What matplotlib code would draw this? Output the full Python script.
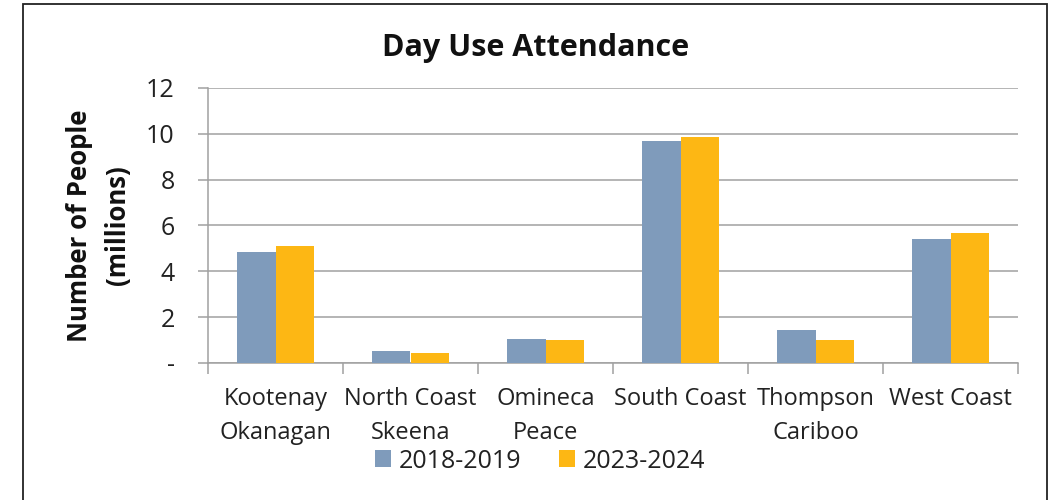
import matplotlib
matplotlib.use("Agg")
import matplotlib.pyplot as plt
from matplotlib.patches import Rectangle
import numpy as np

categories = ["Kootenay\nOkanagan", "North Coast\nSkeena", "Omineca\nPeace",
              "South Coast", "Thompson\nCariboo", "West Coast"]
series_names = ["2018-2019", "2023-2024"]
values_2018 = [4.83, 0.52, 1.05, 9.67, 1.42, 5.42]
values_2023 = [5.09, 0.45, 1.00, 9.88, 1.00, 5.68]
yticks = [0, 2, 4, 6, 8, 10, 12]
ytick_labels = ["-", "2", "4", "6", "8", "10", "12"]

plt.rcParams['font.family'] = ['Open Sans', 'DejaVu Sans']

fig = plt.figure(figsize=(10.55, 5), dpi=100)
ax = fig.add_axes([208/1055, 137/500, (1018-208)/1055, (363-88)/500])

x = np.arange(len(categories))
w = 0.285
c1 = "#7F9BBB"
c2 = "#FDB714"
ax.bar(x - w/2, values_2018, w, color=c1, label=series_names[0], zorder=3)
ax.bar(x + w/2, values_2023, w, color=c2, label=series_names[1], zorder=3)

ax.set_xlim(-0.5, len(categories) - 0.5)
ax.set_ylim(0, 12)
ax.set_yticks(yticks)
ax.set_yticklabels(ytick_labels, fontsize=18, color="#222222")
ax.yaxis.grid(True, color="#A0A0A0", linewidth=1.1, zorder=0)
ax.set_axisbelow(True)

ax.set_xticks(x)
ax.set_xticklabels(categories, fontsize=17, linespacing=1.55, color="#222222")
ax.set_xticks(np.arange(-0.5, len(categories)), minor=True)
ax.tick_params(axis='x', which='major', length=0, pad=17)
ax.tick_params(axis='x', which='minor', length=8, color="#A0A0A0", width=1.1)
ax.tick_params(axis='y', length=7, color="#A0A0A0", width=1.1, pad=17)

for s in ["top", "right"]:
    ax.spines[s].set_visible(False)
for s in ["left", "bottom"]:
    ax.spines[s].set_color("#A0A0A0")
    ax.spines[s].set_linewidth(1.1)

ax.set_ylabel("Number of People\n(millions)", fontsize=18.5, fontweight="bold",
              linespacing=1.5, labelpad=11, color="#111111")

fig.text(536/1055, 1 - 48/500, "Day Use Attendance", fontsize=22,
         fontweight="bold", ha="center", va="center", color="#111111")

leg = fig.legend(loc="center", bbox_to_anchor=(540/1055, 1 - 461/500), ncol=2,
                 frameon=False, fontsize=18, handlelength=0.65, handleheight=0.65,
                 handletextpad=0.3, columnspacing=1.5)
for t in leg.get_texts():
    t.set_color("#222222")

fig.patches.append(Rectangle((23/1055, -0.05), (1047-23)/1055, 1.05 - 4/500,
                             transform=fig.transFigure, fill=False,
                             edgecolor="#222222", linewidth=1.3))

fig.savefig("out.png", dpi=100)
